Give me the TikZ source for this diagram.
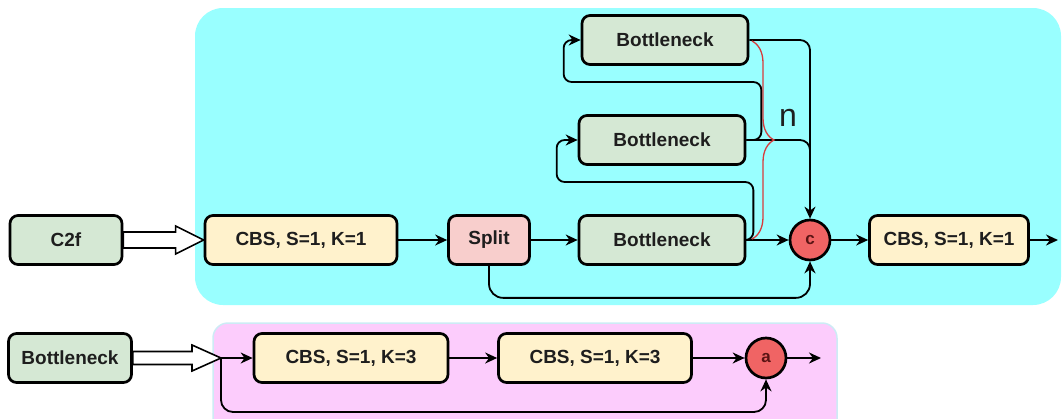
\documentclass[tikz,border=0pt]{standalone}
\usepackage{fontspec}
\setmainfont{Liberation Sans}
\usetikzlibrary{arrows.meta,calc,decorations.pathreplacing}
\definecolor{regcyan}{RGB}{153,255,255}
\definecolor{regpink}{RGB}{252,204,252}
\definecolor{regedge}{RGB}{205,235,245}
\definecolor{boxgreen}{RGB}{213,232,212}
\definecolor{boxyellow}{RGB}{255,242,204}
\definecolor{boxred}{RGB}{248,206,204}
\definecolor{sumred}{RGB}{240,100,100}
\definecolor{sumtext}{RGB}{90,20,20}
\definecolor{ink}{RGB}{30,30,30}
\definecolor{bracered}{RGB}{215,60,60}
\begin{document}
\begin{tikzpicture}[x=1pt,y=-1pt,
  block/.style={draw=black, line width=2.7pt, rounded corners=8pt,
    minimum height=49pt, inner sep=0pt, text=ink,
    font=\fontsize{19}{22}\selectfont\bfseries},
  greenbox/.style={block, fill=boxgreen},
  yellowbox/.style={block, fill=boxyellow},
  redbox/.style={block, fill=boxred},
  sum/.style={circle, draw=black, line width=2.7pt, fill=sumred,
    minimum size=40pt, inner sep=0pt, text=sumtext,
    font=\fontsize{17}{19}\selectfont\bfseries},
  link/.style={line width=1.8pt, -{Stealth[length=12pt,width=11pt]}},
  plain/.style={line width=1.8pt},
  hollow/.style={draw=black, line width=1.6pt, fill=white, line join=miter}
]
\useasboundingbox (0,0) rectangle (1062,418);

% module backgrounds
\fill[regcyan, rounded corners=28pt] (195,8) rectangle (1061,305);
\filldraw[fill=regpink, draw=regedge, line width=1.5pt, rounded corners=15pt]
  (213,323) rectangle (837,440);

% C2f block
\node[greenbox, minimum width=112pt] (c2f) at (66,240) {C2f};
\node[yellowbox, minimum width=192pt] (cbs1) at (301,240) {CBS, S=1, K=1};
\node[redbox, minimum width=81pt] (split) at (489,240) {Split};
\node[greenbox, minimum width=166pt] (bn1) at (662,240) {Bottleneck};
\node[greenbox, minimum width=166pt] (bn2) at (662,140) {Bottleneck};
\node[greenbox, minimum width=166pt] (bn3) at (665,40) {Bottleneck};
\node[sum] (c) at (810,240) {c};
\node[yellowbox, minimum width=159pt] (cbs2) at (949,240) {CBS, S=1, K=1};
\coordinate (out1) at (1058,240);

% Bottleneck block
\node[greenbox, minimum width=123pt] (bnl) at (70,358) {Bottleneck};
\node[yellowbox, minimum width=194pt] (k3a) at (351,358) {CBS, S=1, K=3};
\node[yellowbox, minimum width=193pt] (k3b) at (595,358) {CBS, S=1, K=3};
\node[sum] (a) at (766,358) {a};
\coordinate (out2) at (821,358);
\coordinate (tip) at (221,358);

% wide open arrows into the modules
\draw[hollow] ($(c2f.east)+(0,-8)$) -- ($(cbs1.west)+(-28,-8)$)
  -- ($(cbs1.west)+(-28,-14)$) -- (cbs1.west) -- ($(cbs1.west)+(-28,14)$)
  -- ($(cbs1.west)+(-28,8)$) -- ($(c2f.east)+(0,8)$) -- cycle;
\draw[hollow] ($(bnl.east)+(0,-6.5)$) -- ($(tip)+(-29,-6.5)$)
  -- ($(tip)+(-29,-13)$) -- (tip) -- ($(tip)+(-29,13)$)
  -- ($(tip)+(-29,6.5)$) -- ($(bnl.east)+(0,6.5)$) -- cycle;

% C2f connectors
\draw[link] (cbs1.east) -- (split.west);
\draw[link] (split.east) -- (bn1.west);
\draw[link] (bn1.east) -- (c.west);
\draw[link, rounded corners=8pt] (bn1.east) -- ++(7,0)
  |- ($(bn2.west)+(-21,42)$) |- (bn2.west);
\draw[link, rounded corners=8pt] (bn2.east) -- ++(15,0)
  |- ($(bn3.west)+(-17,42)$) |- (bn3.west);
\draw[plain, rounded corners=10pt] (bn2.east) -| ($(c.north)+(0,-40)$);
\draw[link, rounded corners=10pt] (bn3.east) -| (c.north);
\draw[link, rounded corners=14pt] (split.south) -- ++(0,32) -| (c.south);
\draw[link] (c.east) -- (cbs2.west);
\draw[link] (cbs2.east) -- (out1);

% repetition brace
\draw[bracered, line width=1.3pt, decorate, decoration={brace, amplitude=22pt}]
  (752,41) -- (752,239);
\node[font=\fontsize{32}{36}\selectfont, text=ink] (nlabel) at (788,118) {n};

% Bottleneck connectors
\draw[link] (tip) -- (k3a.west);
\draw[link] (k3a.east) -- (k3b.west);
\draw[link] (k3b.east) -- (a.west);
\draw[link] (a.east) -- (out2);
\draw[link, rounded corners=12pt] (tip) -- ++(0,54) -| (a.south);
\end{tikzpicture}
\end{document}
